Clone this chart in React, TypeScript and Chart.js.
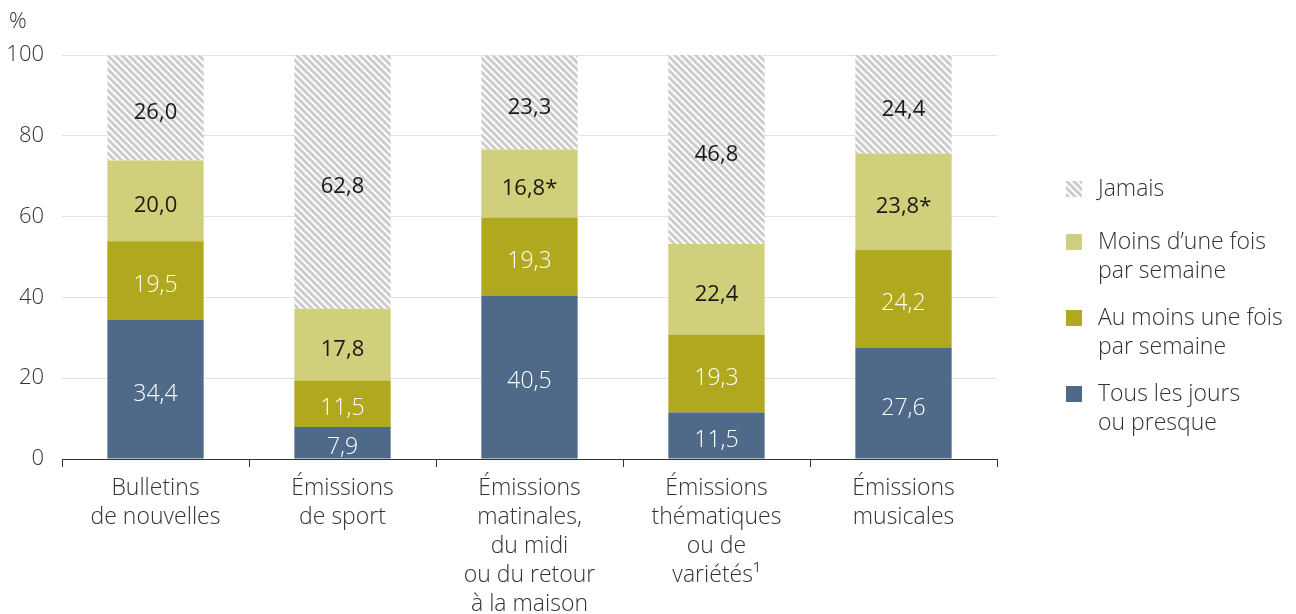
import React, { useEffect, useRef } from "react";
import { Chart, registerables } from "chart.js";

Chart.register(...registerables);

const categories: string[][] = [
  ["Bulletins", "de nouvelles"],
  ["Émissions", "de sport"],
  ["Émissions", "matinales,", "du midi", "ou du retour", "à la maison"],
  ["Émissions", "thématiques", "ou de", "variétés¹"],
  ["Émissions", "musicales"],
];

const tousLesJours = [34.4, 7.9, 40.5, 11.5, 27.6];
const auMoinsUneFois = [19.5, 11.5, 19.3, 19.3, 24.2];
const moinsDuneFois = [20.0, 17.8, 16.8, 22.4, 23.8];
const jamais = [26.0, 62.8, 23.3, 46.8, 24.4];

const moinsFlags = [false, false, true, false, true];

const yTicks = [0, 20, 40, 60, 80, 100];

const FONT = "'Open Sans', sans-serif";
const TEXT = "#333333";
const C_BLUE = "#4f6a89";
const C_OLIVE = "#b0a91f";
const C_LIGHT = "#d0cf7c";
const C_HATCH = "#cccccc";

function makeHatch(): CanvasPattern | string {
  const s = 7;
  const c = document.createElement("canvas");
  c.width = s;
  c.height = s;
  const g = c.getContext("2d");
  if (!g) return C_HATCH;
  g.fillStyle = C_HATCH;
  g.fillRect(0, 0, s, s);
  g.strokeStyle = "#ffffff";
  g.lineWidth = 2;
  g.beginPath();
  g.moveTo(-1, -1);
  g.lineTo(s + 1, s + 1);
  g.moveTo(-1 - s, -1);
  g.lineTo(1, s + 1);
  g.moveTo(s - 1, -1);
  g.lineTo(2 * s + 1, s + 1);
  g.stroke();
  const p = g.createPattern(c, "repeat");
  return p || C_HATCH;
}

const fmt = (v: number) => v.toFixed(1).replace(".", ",");

export default function App() {
  const ref = useRef<HTMLCanvasElement | null>(null);

  useEffect(() => {
    document.body.style.margin = "0";
    const canvas = ref.current;
    if (!canvas) return;
    const hatch = makeHatch();

    const legendItems = [
      { lines: ["Jamais"], color: hatch, y: 189 },
      { lines: ["Moins d’une fois", "par semaine"], color: C_LIGHT, y: 242 },
      { lines: ["Au moins une fois", "par semaine"], color: C_OLIVE, y: 318 },
      { lines: ["Tous les jours", "ou presque"], color: C_BLUE, y: 394 },
    ];

    const labelPlugin = {
      id: "labels",
      afterDatasetsDraw(chart: any) {
        const ctx = chart.ctx;
        ctx.save();
        ctx.textAlign = "center";
        ctx.textBaseline = "middle";
        chart.data.datasets.forEach((ds: any, di: number) => {
          const meta = chart.getDatasetMeta(di);
          meta.data.forEach((bar: any, i: number) => {
            const v = ds.data[i];
            let t = fmt(v);
            if (di === 2 && moinsFlags[i]) t += "*";
            if (di < 2) {
              ctx.fillStyle = "#ffffff";
              ctx.font = `300 23px ${FONT}`;
            } else {
              ctx.fillStyle = "#1a1a1a";
              ctx.font = `400 22px ${FONT}`;
            }
            const cy = (bar.y + bar.base) / 2;
            ctx.fillText(t, bar.x, cy + 5);
          });
        });
        ctx.restore();
      },
      afterDraw(chart: any) {
        const ctx = chart.ctx;
        ctx.save();
        ctx.font = `300 22px ${FONT}`;
        ctx.fillStyle = TEXT;
        ctx.textAlign = "left";
        ctx.textBaseline = "middle";
        ctx.fillText("%", 9, 22);
        ctx.font = `300 23px ${FONT}`;
        legendItems.forEach((it) => {
          ctx.fillStyle = it.color as any;
          ctx.fillRect(1066, it.y - 8, 16, 16);
          ctx.fillStyle = TEXT;
          it.lines.forEach((ln, k) => {
            ctx.fillText(ln, 1098, it.y + k * 29);
          });
        });
        ctx.restore();
      },
    };

    const common = {
      barPercentage: 0.515,
      categoryPercentage: 1,
      borderWidth: 0,
    };

    const chart = new Chart(canvas, {
      type: "bar",
      data: {
        labels: categories,
        datasets: [
          { label: "Tous les jours ou presque", data: tousLesJours, backgroundColor: C_BLUE, ...common },
          { label: "Au moins une fois par semaine", data: auMoinsUneFois, backgroundColor: C_OLIVE, ...common },
          { label: "Moins d’une fois par semaine", data: moinsDuneFois, backgroundColor: C_LIGHT, ...common },
          { label: "Jamais", data: jamais, backgroundColor: hatch as any, ...common },
        ],
      },
      options: {
        responsive: false,
        animation: false,
        layout: { padding: { top: 55, right: 299, left: 0, bottom: 0 } },
        plugins: {
          legend: { display: false },
          tooltip: { enabled: false },
        },
        scales: {
          x: {
            stacked: true,
            afterFit: (s: any) => {
              s.height = 155;
            },
            grid: {
              offset: true,
              drawOnChartArea: false,
              drawTicks: true,
              tickLength: 8,
              color: TEXT,
              lineWidth: 1,
            },
            border: { display: true, color: TEXT, width: 1 },
            ticks: {
              color: TEXT,
              padding: 7,
              maxRotation: 0,
              autoSkip: false,
              font: { family: FONT, size: 23, weight: "300" as any, lineHeight: 1.26 },
            },
          },
          y: {
            stacked: true,
            min: 0,
            max: 100,
            afterFit: (s: any) => {
              s.width = 62;
            },
            afterBuildTicks: (s: any) => {
              s.ticks = yTicks.map((v) => ({ value: v }));
            },
            grid: {
              drawTicks: false,
              color: "#e2e2e2",
              lineWidth: 1,
            },
            border: { display: false },
            ticks: {
              color: TEXT,
              padding: 18,
              font: { family: FONT, size: 22, weight: "300" as any },
            },
          },
        },
      },
      plugins: [labelPlugin],
    });

    return () => chart.destroy();
  }, []);

  return (
    <div style={{ width: 1296, height: 614 }}>
      <canvas ref={ref} width={1296} height={614} style={{ display: "block" }} />
    </div>
  );
}
